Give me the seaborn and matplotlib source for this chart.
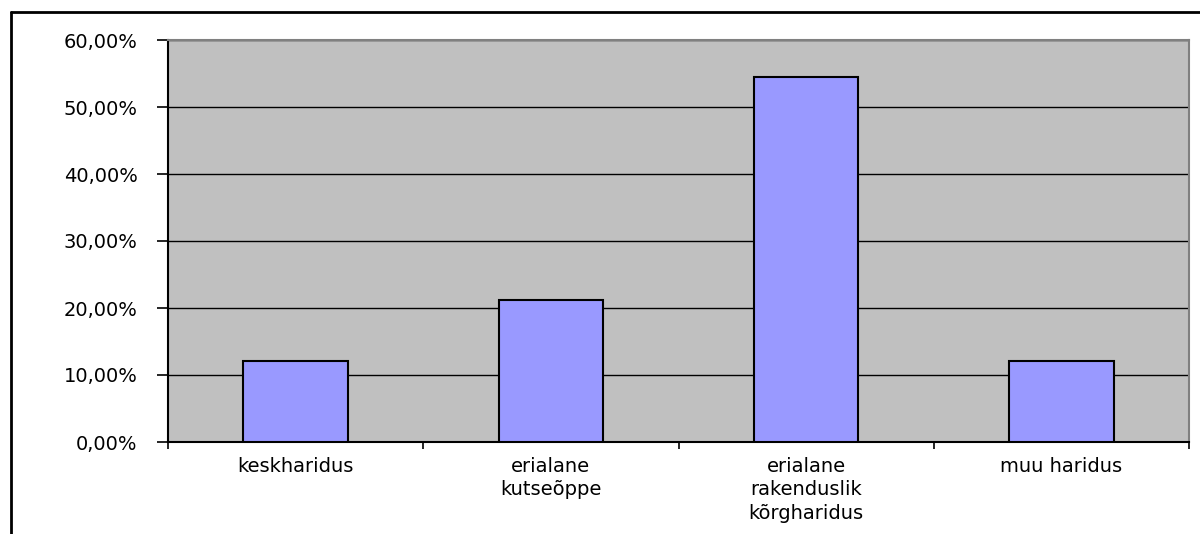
import matplotlib
matplotlib.use("Agg")
import matplotlib.pyplot as plt
import seaborn as sns
import pandas as pd
from matplotlib.ticker import FuncFormatter, FixedLocator
from matplotlib.lines import Line2D

categories = ["keskharidus", "erialane\nkutseõppe", "erialane\nrakenduslik\nkõrgharidus", "muu haridus"]
values = [12.12, 21.21, 54.55, 12.12]
y_ticks = [0, 10, 20, 30, 40, 50, 60]

sns.set_theme(style="white")
plt.rcParams['font.family'] = ['DejaVu Sans']
plt.rcParams['text.color'] = 'black'
plt.rcParams['xtick.color'] = 'black'
plt.rcParams['ytick.color'] = 'black'
plt.rcParams['xtick.labelcolor'] = 'black'
plt.rcParams['ytick.labelcolor'] = 'black'

df = pd.DataFrame({"cat": categories, "val": values})

fig = plt.figure(figsize=(12, 5.34), dpi=100)
ax = fig.add_axes([168/1200, 92/534, (1189-168)/1200, (442-40)/534])
ax.set_facecolor("#C0C0C0")

sns.barplot(data=df, x="cat", y="val", color="#9999FF", edgecolor="black",
            linewidth=1.5, width=0.41, saturation=1, ax=ax, zorder=3)

ax.set_ylim(0, 60)
ax.set_xlim(-0.5, 3.5)
ax.yaxis.set_major_locator(FixedLocator(y_ticks))
ax.yaxis.set_major_formatter(FuncFormatter(lambda v, p: f"{v:.2f}".replace('.', ',') + '%'))
ax.grid(axis='y', color='black', linewidth=1.0, zorder=1)
ax.set_axisbelow(True)
ax.set_xlabel("")
ax.set_ylabel("")

ax.tick_params(axis='y', which='major', direction='out', length=8, width=1.2,
               color='black', labelcolor='black', labelsize=14, pad=14, left=True)
ax.tick_params(axis='x', which='major', length=0, labelsize=14, pad=11,
               labelcolor='black')
ax.set_xticks([-0.5, 0.5, 1.5, 2.5, 3.5], minor=True)
ax.tick_params(axis='x', which='minor', direction='out', length=5, width=1.2,
               color='black', bottom=True)
for lbl in ax.get_xticklabels():
    lbl.set_linespacing(1.28)
    lbl.set_verticalalignment('top')

for s in ['left', 'bottom']:
    ax.spines[s].set_color('black')
    ax.spines[s].set_linewidth(1.5)
for s in ['top', 'right']:
    ax.spines[s].set_color('#808080')
    ax.spines[s].set_linewidth(1.5)

# outer chart frame (left and top edges visible)
fig.add_artist(Line2D([10.5/1200, 10.5/1200], [0, 1 - 12/534], transform=fig.transFigure,
                      color='black', linewidth=2))
fig.add_artist(Line2D([10.5/1200, 1.0], [1 - 12/534, 1 - 12/534], transform=fig.transFigure,
                      color='black', linewidth=2))

fig.savefig("out.png", dpi=100, facecolor='white')
